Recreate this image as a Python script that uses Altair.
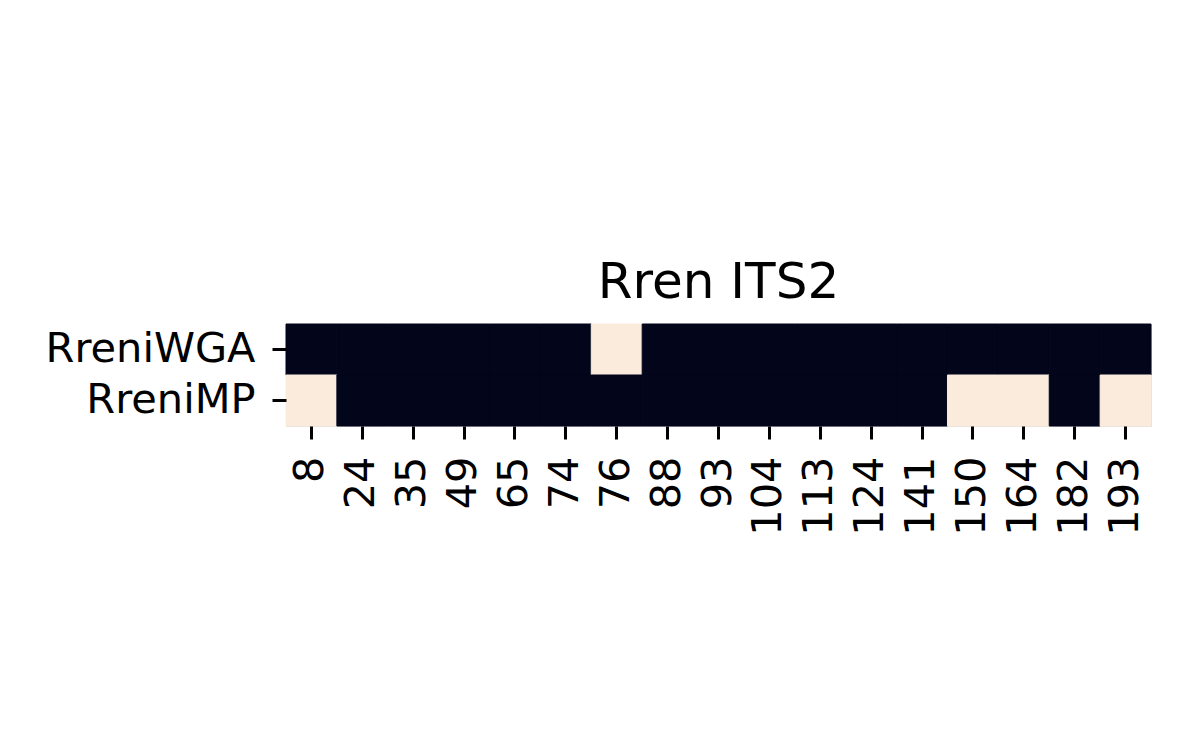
import altair as alt
import pandas as pd

positions = ["8", "24", "35", "49", "65", "74", "76", "88", "93", "104",
             "113", "124", "141", "150", "164", "182", "193"]
samples = ["RreniWGA", "RreniMP"]
wga_values = [0, 0, 0, 0, 0, 0, 1, 0, 0, 0, 0, 0, 0, 0, 0, 0, 0]
mp_values = [1, 0, 0, 0, 0, 0, 0, 0, 0, 0, 0, 0, 0, 1, 1, 0, 1]

rows = []
for s, vals in zip(samples, [wga_values, mp_values]):
    for p, v in zip(positions, vals):
        rows.append({"sample": s, "position": p, "value": v})
df = pd.DataFrame(rows)

FONT = "DejaVu Sans"
cscale = alt.Scale(domain=[0, 1], range=["#03051A", "#FAEBDD"])

chart = alt.Chart(df).mark_rect(strokeWidth=1).encode(
    x=alt.X("position:N", sort=positions, title=None,
            scale=alt.Scale(paddingInner=0, paddingOuter=0),
            axis=alt.Axis(labelAngle=-90, labelFontSize=41.5, labelFont=FONT,
                          labelColor="black", tickSize=13, tickWidth=3,
                          tickColor="black", domain=False, labelPadding=17,
                          labelBaseline="middle", labelAlign="right")),
    y=alt.Y("sample:N", sort=samples, title=None,
            scale=alt.Scale(paddingInner=0, paddingOuter=0),
            axis=alt.Axis(labelFontSize=41.5, labelFont=FONT, labelColor="black",
                          tickSize=14, tickWidth=3, tickColor="black",
                          domain=False, labelPadding=17, labelLimit=400)),
    color=alt.Color("value:O", legend=None, scale=cscale),
    stroke=alt.Stroke("value:O", legend=None, scale=cscale),
).properties(
    width=865,
    height=102,
    title=alt.TitleParams("Rren ITS2", fontSize=50, font=FONT, fontWeight="normal",
                          color="black", offset=16),
    autosize=alt.AutoSizeParams(type="none"),
    padding={"left": 286, "top": 324, "right": 49, "bottom": 324},
).configure_view(stroke=None).configure(background="white")

chart.save("out.html", embed_options={"renderer": "svg", "actions": False})
